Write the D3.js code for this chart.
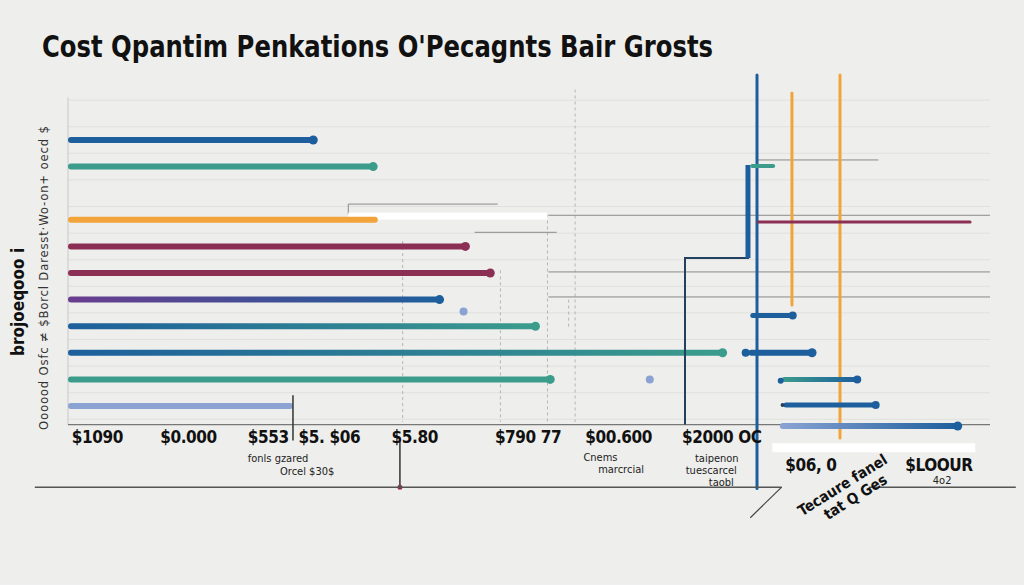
<!DOCTYPE html>
<html>
<head>
<meta charset="utf-8">
<script src="https://cdn.jsdelivr.net/npm/d3@7"></script>
<style>
  html, body { margin: 0; padding: 0; background: #eeeeec; }
  svg { display: block; }
  .narrow { font-family: 'Liberation Sans Narrow', 'DejaVu Sans Condensed', 'Arial Narrow', sans-serif; }
</style>
</head>
<body>
<svg id="chart"></svg>
<script>
const colours = {
  blue: '#1d5f9c',
  teal: '#3b9c8c',
  orange: '#f2a43a',
  maroon: '#8b2f55',
  purple: '#6a3d8f',
  lightBlue: '#8aa3d3',
  navy: '#23405f',
  grid: '#e0e0de',
  guide: '#8a8a8a',
  ink: '#111',
};

const width = 1024;
const height = 585;

// main bars: row slot, end cost, colours
const rowSlots = [0, 1, 3, 4, 5, 6, 7, 8, 9, 10];
const barEnds = [2660, 3310, 3360, 4310, 4580, 4030, 5070, 7100, 5230, 2440];
const barStart = [colours.blue, colours.teal, colours.orange, colours.maroon, colours.maroon, colours.purple, colours.blue, colours.blue, colours.teal, colours.lightBlue];
const barStop = [colours.blue, colours.teal, colours.orange, colours.maroon, colours.maroon, colours.blue, colours.teal, colours.teal, colours.teal, colours.lightBlue];
const barDots = [true, true, false, true, true, true, true, true, true, false];

// short segments on the right
const segFrom = [7400, 7470, 7400, 7380, 7740, 7760, 7720];
const segTo = [7670, 9800, 7860, 8070, 8560, 8760, 9650];
const segSlots = [0.98, 3.08, 6.6, 8.0, 9.0, 9.96, 10.75];
const segStart = [colours.teal, colours.maroon, colours.blue, colours.blue, colours.teal, colours.blue, colours.lightBlue];
const segStop = [colours.teal, colours.maroon, colours.blue, colours.blue, colours.blue, colours.blue, colours.blue];
const segWidth = [4, 3, 5, 6, 5, 5, 6];

// loose dots
const dotCosts = [4290, 6310, 7350, 7730, 7750];
const dotSlots = [6.45, 9.0, 8.0, 9.05, 9.96];
const dotColours = [colours.lightBlue, colours.lightBlue, colours.blue, colours.blue, colours.navy];
const dotSizes = [4, 4, 4, 3, 2];

// vertical reference lines
const vCosts = [7473, 7852, 8373];
const vFrom = [-2.44, -1.77, -2.44];
const vTo = [13.1, 6.2, 11.2];
const vColours = [colours.blue, colours.orange, colours.orange];
const vWidths = [3, 3, 3];

// stepped line
const stepCosts = [7375, 7375, 6692, 6692];
const stepSlots = [0.94, 4.44, 4.44, 10.7];

// x tick labels
const tickCosts = [40, 1000, 1950, 3510, 4630, 5610, 6660, 7780, 9080];
const tickSlots = [11.4, 11.4, 11.4, 11.4, 11.4, 11.4, 11.4, 12.45, 12.45];
const tickLabels = ['$1090', '$0.000', '$553  $5. $06', '$5.80', '$790 77', '$00.600', '$2000 OC', '$06, 0', '$LOOUR'];
const noteCosts = [1950, 2300, 5590, 5750, 6800, 6700, 6950, 9380];
const noteSlots = [12.1, 12.6, 12.05, 12.5, 12.1, 12.55, 13.0, 12.95];
const noteLabels = ['fonls gzared', 'Orcel $30$', 'Cnems', 'marcrcial', 'taipenon', 'tuescarcel', 'taobl', '4o2'];

const title = "Cost Qpantim Penkations O'Pecagnts Bair Grosts";

const x = d3.scaleLinear().domain([0, 10000]).range([68, 990]);
const y = d3.scaleLinear().domain([0, 10]).range([140, 406]);

const svg = d3.select('#chart').attr('width', width).attr('height', height);
const defs = svg.append('defs');

function gradient(id, a, b) {
  const g = defs.append('linearGradient').attr('id', id).attr('x1', '0%').attr('x2', '100%');
  g.append('stop').attr('offset', '0%').attr('stop-color', a);
  g.append('stop').attr('offset', '100%').attr('stop-color', b);
  return `url(#${id})`;
}

// gridlines
const gridSlots = d3.range(-1, 12).map(d => d - 0.5);
svg.append('g')
  .selectAll('line')
  .data(gridSlots)
  .join('line')
  .attr('x1', x(0))
  .attr('x2', x(10000))
  .attr('y1', d => y(d))
  .attr('y2', d => y(d))
  .attr('stroke', colours.grid)
  .attr('stroke-width', 1);

// left axis and baseline
svg.append('line')
  .attr('x1', x(0)).attr('x2', x(0))
  .attr('y1', y(-1.6)).attr('y2', y(10.7))
  .attr('stroke', '#c8c8c6');
svg.append('line')
  .attr('x1', x(0)).attr('x2', x(10000))
  .attr('y1', y(10.7)).attr('y2', y(10.7))
  .attr('stroke', '#777').attr('stroke-width', 1.2);

// dashed guides
const dashCosts = [3630, 4690, 5200, 5500, 5430];
const dashFrom = [3.8, 4.9, 2.8, -1.9, 6.0];
const dashTo = [10.6, 10.6, 10.6, 10.6, 7.1];
svg.append('g')
  .selectAll('line')
  .data(dashCosts)
  .join('line')
  .attr('x1', d => x(d)).attr('x2', d => x(d))
  .attr('y1', (d, i) => y(dashFrom[i]))
  .attr('y2', (d, i) => y(dashTo[i]))
  .attr('stroke', '#b5b5b3')
  .attr('stroke-dasharray', '3,3');

// grey guide lines
const hgFrom = [3040, 4410, 5210, 5210, 5210, 7470];
const hgTo = [4660, 5300, 10000, 10000, 10000, 8790];
const hgSlots = [2.41, 3.47, 2.83, 4.96, 5.9, 0.75];
svg.append('g')
  .selectAll('line')
  .data(hgSlots)
  .join('line')
  .attr('x1', (d, i) => x(hgFrom[i]))
  .attr('x2', (d, i) => x(hgTo[i]))
  .attr('y1', d => y(d))
  .attr('y2', d => y(d))
  .attr('stroke', colours.guide)
  .attr('stroke-width', 1);
svg.append('line')
  .attr('x1', x(3040)).attr('x2', x(3040))
  .attr('y1', y(2.41)).attr('y2', y(2.8))
  .attr('stroke', colours.guide);
svg.append('rect')
  .attr('x', x(3040)).attr('y', y(2.73))
  .attr('width', x(5200) - x(3040)).attr('height', 7)
  .attr('fill', '#ffffff');

// main bars
const bars = svg.append('g');
rowSlots.forEach((s, i) => {
  const fill = gradient(`bar${i}`, barStart[i], barStop[i]);
  bars.append('rect')
    .attr('x', x(0))
    .attr('y', y(s) - 3)
    .attr('width', x(barEnds[i]) - x(0))
    .attr('height', 6)
    .attr('rx', 3)
    .attr('fill', fill);
  if (barDots[i]) {
    bars.append('circle')
      .attr('cx', x(barEnds[i]))
      .attr('cy', y(s))
      .attr('r', 4.5)
      .attr('fill', barStop[i]);
  }
});

// vertical reference lines
svg.append('g')
  .selectAll('line')
  .data(vCosts)
  .join('line')
  .attr('x1', d => x(d)).attr('x2', d => x(d))
  .attr('y1', (d, i) => y(vFrom[i]))
  .attr('y2', (d, i) => y(vTo[i]))
  .attr('stroke', (d, i) => vColours[i])
  .attr('stroke-width', (d, i) => vWidths[i])
  .attr('stroke-linecap', 'round');

// stepped line
const stepLine = d3.line().x(d => x(d[0])).y(d => y(d[1]));
const stepPts = stepCosts.map((c, i) => [c, stepSlots[i]]);
svg.append('path')
  .attr('d', stepLine(stepPts))
  .attr('fill', 'none')
  .attr('stroke', colours.navy)
  .attr('stroke-width', 2);
svg.append('path')
  .attr('d', stepLine(stepPts.slice(0, 2)))
  .attr('fill', 'none')
  .attr('stroke', colours.blue)
  .attr('stroke-width', 5);

// right segments
const segs = svg.append('g');
segSlots.forEach((s, i) => {
  const fill = gradient(`seg${i}`, segStart[i], segStop[i]);
  const w = segWidth[i];
  segs.append('rect')
    .attr('x', x(segFrom[i]))
    .attr('y', y(s) - w / 2)
    .attr('width', x(segTo[i]) - x(segFrom[i]))
    .attr('height', w)
    .attr('rx', w / 2)
    .attr('fill', fill);
  if (i > 1) {
    segs.append('circle')
      .attr('cx', x(segTo[i]))
      .attr('cy', y(s))
      .attr('r', w / 2 + 1.5)
      .attr('fill', segStop[i]);
  }
});

// loose dots
svg.append('g')
  .selectAll('circle')
  .data(dotCosts)
  .join('circle')
  .attr('cx', d => x(d))
  .attr('cy', (d, i) => y(dotSlots[i]))
  .attr('r', (d, i) => dotSizes[i])
  .attr('fill', (d, i) => dotColours[i]);

// white label box on right
svg.append('rect')
  .attr('x', x(7640)).attr('y', y(11.4))
  .attr('width', x(9840) - x(7640)).attr('height', 9)
  .attr('fill', '#ffffff');

// leader lines from labels
const leadCosts = [2440, 3600];
const leadFrom = [9.6, 11.3];
const leadTo = [11.3, 13.05];
svg.append('g')
  .selectAll('line')
  .data(leadCosts)
  .join('line')
  .attr('x1', d => x(d)).attr('x2', d => x(d))
  .attr('y1', (d, i) => y(leadFrom[i]))
  .attr('y2', (d, i) => y(leadTo[i]))
  .attr('stroke', '#333')
  .attr('stroke-width', 1.5);
svg.append('circle')
  .attr('cx', x(3600)).attr('cy', y(13.05)).attr('r', 2.5)
  .attr('fill', colours.maroon);

// bottom rule
const ruleFrom = [-360, 8690];
const ruleTo = [7740, 10280];
svg.append('g')
  .selectAll('line')
  .data(ruleFrom)
  .join('line')
  .attr('x1', d => x(d))
  .attr('x2', (d, i) => x(ruleTo[i]))
  .attr('y1', y(13.05)).attr('y2', y(13.05))
  .attr('stroke', '#555')
  .attr('stroke-width', 1.5);
svg.append('line')
  .attr('x1', x(7740)).attr('y1', y(13.05))
  .attr('x2', x(7400)).attr('y2', y(14.2))
  .attr('stroke', '#444')
  .attr('stroke-width', 1.2);

// x tick labels
svg.append('g')
  .selectAll('text')
  .data(tickLabels)
  .join('text')
  .attr('class', 'narrow')
  .attr('x', (d, i) => x(tickCosts[i]))
  .attr('y', (d, i) => y(tickSlots[i]))
  .attr('font-size', 17)
  .attr('font-weight', 'bold')
  .attr('letter-spacing', -0.4)
  .attr('fill', colours.ink)
  .style('white-space', 'pre')
  .text(d => d);

svg.append('g')
  .selectAll('text')
  .data(noteLabels)
  .join('text')
  .attr('class', 'narrow')
  .attr('x', (d, i) => x(noteCosts[i]))
  .attr('y', (d, i) => y(noteSlots[i]))
  .attr('font-size', 11)
  .attr('fill', '#222')
  .text(d => d);

// rotated bottom label
const rot = svg.append('g')
  .attr('class', 'narrow')
  .attr('transform', `translate(${x(7960)},${y(14.15)}) rotate(-32)`)
  .attr('font-size', 15)
  .attr('font-weight', 'bold')
  .attr('fill', colours.ink);
rot.append('text').attr('x', 0).attr('y', 0).text('Tecaure fanel');
rot.append('text').attr('x', 20).attr('y', 17).text('tat Q Ges');

// y axis labels
svg.append('text')
  .attr('class', 'narrow')
  .attr('transform', `translate(48,430) rotate(-90)`)
  .attr('font-size', 13)
  .attr('letter-spacing', 0.8)
  .attr('fill', '#333')
  .text('Oooood Osfc ≠ $Borcl Daresst·Wo-on+ oecd $');
svg.append('text')
  .attr('class', 'narrow')
  .attr('transform', `translate(24,356) rotate(-90)`)
  .attr('font-size', 17)
  .attr('font-weight', 'bold')
  .attr('fill', colours.ink)
  .text('brojoeqooo i');

// title
svg.append('text')
  .attr('class', 'narrow')
  .attr('x', 42)
  .attr('y', 57)
  .attr('font-size', 31)
  .attr('font-weight', 'bold')
  .attr('fill', colours.ink)
  .attr('textLength', 671)
  .attr('lengthAdjust', 'spacingAndGlyphs')
  .text(title);
</script>
</body>
</html>
